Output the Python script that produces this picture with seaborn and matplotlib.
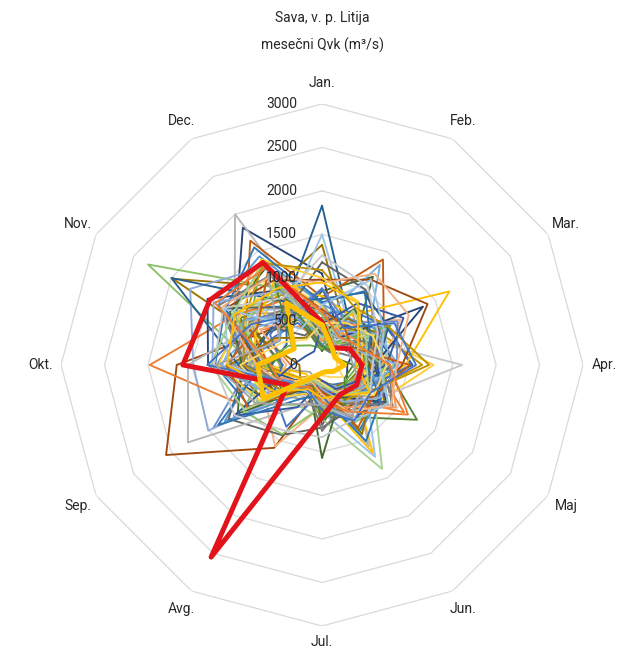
import numpy as np
import pandas as pd
import seaborn as sns
import matplotlib.pyplot as plt
from matplotlib import transforms

## data: monthly peak flow Qvk (m3/s), one list per year
months = ['Jan.', 'Feb.', 'Mar.', 'Apr.', 'Maj', 'Jun.', 'Jul.', 'Avg.', 'Sep.', 'Okt.', 'Nov.', 'Dec.']
r_ticks = [0, 500, 1000, 1500, 2000, 2500, 3000]

q1958 = [240, 180, 650, 540, 380, 260, 210, 330, 720, 890, 640, 560]
q1959 = [280, 520, 390, 610, 1090, 430, 250, 190, 470, 360, 820, 510]
q1960 = [350, 240, 580, 720, 460, 610, 280, 170, 160, 930, 1180, 690]
q1961 = [610, 470, 330, 780, 420, 1170, 360, 240, 210, 640, 870, 980]
q1962 = [230, 560, 470, 380, 740, 350, 520, 280, 410, 1020, 560, 870]
q1963 = [310, 190, 720, 450, 560, 380, 290, 410, 620, 480, 950, 1400]
q1964 = [1050, 380, 470, 290, 330, 520, 240, 160, 350, 780, 1140, 1820]
q1965 = [360, 280, 590, 430, 640, 310, 220, 1100, 2070, 1670, 760, 620]
q1966 = [540, 630, 320, 780, 520, 410, 690, 260, 740, 450, 1010, 390]
q1967 = [1380, 520, 640, 480, 360, 290, 180, 150, 290, 260, 1980, 1040]
q1968 = [1830, 610, 720, 840, 450, 330, 270, 220, 390, 580, 470, 820]
q1969 = [850, 1170, 410, 620, 480, 690, 340, 250, 480, 960, 730, 590]
q1970 = [620, 380, 490, 760, 610, 360, 280, 330, 1440, 820, 940, 720]
q1971 = [280, 690, 540, 930, 710, 430, 520, 290, 360, 1080, 590, 880]
q1972 = [410, 320, 380, 560, 420, 1080, 260, 230, 620, 740, 1160, 2000]
q1973 = [360, 470, 690, 1280, 790, 450, 390, 200, 290, 610, 960, 740]
q1974 = [520, 1330, 610, 480, 390, 310, 220, 180, 690, 1170, 870, 640]
q1975 = [730, 420, 460, 590, 370, 310, 240, 280, 860, 780, 2310, 1020]
q1976 = [640, 520, 860, 1040, 560, 410, 460, 390, 620, 880, 720, 810]
q1977 = [780, 1400, 820, 590, 520, 600, 330, 240, 790, 610, 1010, 1650]
q1978 = [200, 170, 260, 690, 940, 390, 510, 260, 640, 1060, 980, 760]
q1979 = [590, 450, 760, 1150, 620, 530, 280, 230, 300, 690, 1120, 930]
q1980 = [480, 410, 590, 620, 760, 860, 420, 280, 960, 1230, 1290, 780]
q1981 = [160, 620, 540, 720, 1260, 690, 600, 370, 480, 770, 1080, 890]
q1982 = [510, 380, 760, 640, 480, 390, 310, 230, 1510, 1480, 1750, 1300]
q1983 = [880, 560, 1040, 690, 430, 360, 470, 1080, 760, 410, 820, 620]
q1984 = [420, 760, 580, 1610, 760, 480, 350, 410, 590, 900, 1120, 980]
q1985 = [680, 430, 210, 170, 280, 160, 120, 110, 420, 840, 990, 1230]
q1986 = [1500, 590, 830, 760, 590, 1220, 540, 290, 830, 1280, 1180, 760]
q1987 = [510, 370, 660, 820, 690, 1380, 620, 540, 900, 760, 1020, 1060]
q1988 = [590, 710, 880, 1020, 560, 380, 300, 820, 640, 460, 690, 770]
q1989 = [420, 560, 740, 480, 410, 330, 380, 290, 980, 1980, 1150, 860]
q1990 = [720, 390, 830, 640, 490, 700, 560, 450, 680, 830, 1230, 1320]
q1991 = [790, 660, 1690, 960, 540, 420, 630, 250, 310, 780, 880, 1110]
q1992 = [700, 620, 780, 560, 760, 880, 410, 360, 1290, 760, 1380, 1440]
q1993 = [190, 300, 910, 420, 330, 560, 610, 220, 630, 740, 440, 260]
q1994 = [480, 350, 1340, 600, 860, 430, 290, 170, 760, 1310, 1520, 990]
q1995 = [980, 1130, 1400, 920, 710, 560, 310, 230, 640, 720, 1290, 1120]
q1996 = [1180, 1000, 760, 620, 830, 610, 720, 930, 1240, 880, 1320, 760]
q1997 = [520, 610, 720, 560, 640, 920, 260, 200, 780, 1060, 620, 360]
q1998 = [760, 960, 880, 640, 770, 720, 460, 360, 560, 960, 2000, 840]
q1999 = [360, 740, 660, 540, 610, 420, 1070, 290, 1120, 920, 1220, 1290]
q2000 = [880, 560, 1000, 860, 580, 670, 480, 310, 390, 1210, 1040, 700]
q2001 = [590, 430, 520, 780, 980, 560, 420, 340, 480, 640, 1300, 1380]
q2002 = [410, 360, 450, 600, 520, 660, 410, 560, 1780, 1540, 900, 1220]
q2003 = [1000, 840, 530, 460, 650, 390, 470, 380, 820, 1190, 1090, 1400]
q2004 = [330, 450, 720, 880, 530, 290, 200, 260, 690, 1150, 1030, 650]
q2005 = [580, 290, 480, 690, 870, 760, 480, 920, 1050, 630, 1180, 960]
q2006 = [470, 820, 1080, 740, 410, 320, 180, 560, 1170, 340, 210, 180]
q2007 = [640, 510, 390, 1010, 690, 830, 310, 270, 980, 1100, 860, 1240]
q2008 = [380, 230, 560, 780, 920, 510, 760, 330, 450, 880, 1370, 1190]
q2009 = [1090, 760, 880, 1230, 620, 470, 540, 210, 560, 900, 1040, 1350]
q2010 = [720, 980, 640, 510, 780, 1010, 360, 440, 1380, 690, 1280, 1560]
q2011 = [220, 190, 170, 360, 300, 520, 640, 230, 540, 620, 390, 1080]
q2012 = [450, 240, 380, 880, 760, 490, 280, 190, 690, 1260, 1440, 980]
q2013 = [940, 1210, 1150, 860, 920, 620, 340, 230, 480, 760, 1330, 1180]
q2014 = [1260, 1050, 740, 580, 640, 720, 830, 870, 1160, 1240, 1310, 890]
q2015 = [480, 560, 670, 740, 690, 380, 210, 180, 720, 940, 520, 340]
q2016 = [690, 1130, 820, 660, 880, 740, 460, 350, 490, 1080, 1290, 480]
q2017 = [310, 720, 590, 510, 620, 380, 240, 200, 1030, 1280, 1180, 1360]
q2018 = [870, 490, 960, 1080, 640, 740, 520, 330, 420, 1320, 940, 660]
q2019 = [610, 380, 460, 780, 1140, 620, 430, 290, 510, 590, 1420, 1290]
q2020 = [390, 280, 340, 360, 520, 690, 460, 520, 880, 1220, 560, 1260]
q2021 = [950, 820, 480, 390, 630, 410, 380, 320, 620, 1090, 1160, 1020]
q2022 = [460, 230, 170, 260, 150, 90, 90, 150, 780, 740, 370, 820]
q2023 = [490, 230, 370, 460, 460, 400, 600, 2550, 460, 1600, 1490, 1360]

years = {
    '1958': q1958, '1959': q1959, '1960': q1960, '1961': q1961, '1962': q1962,
    '1963': q1963, '1964': q1964, '1965': q1965, '1966': q1966, '1967': q1967,
    '1968': q1968, '1969': q1969, '1970': q1970, '1971': q1971, '1972': q1972,
    '1973': q1973, '1974': q1974, '1975': q1975, '1976': q1976, '1977': q1977,
    '1978': q1978, '1979': q1979, '1980': q1980, '1981': q1981, '1982': q1982,
    '1983': q1983, '1984': q1984, '1985': q1985, '1986': q1986, '1987': q1987,
    '1988': q1988, '1989': q1989, '1990': q1990, '1991': q1991, '1992': q1992,
    '1993': q1993, '1994': q1994, '1995': q1995, '1996': q1996, '1997': q1997,
    '1998': q1998, '1999': q1999, '2000': q2000, '2001': q2001, '2002': q2002,
    '2003': q2003, '2004': q2004, '2005': q2005, '2006': q2006, '2007': q2007,
    '2008': q2008, '2009': q2009, '2010': q2010, '2011': q2011, '2012': q2012,
    '2013': q2013, '2014': q2014, '2015': q2015, '2016': q2016, '2017': q2017,
    '2018': q2018, '2019': q2019, '2020': q2020, '2021': q2021,
}
highlight = {'2023': (q2023, '#E3131B'), '2022': (q2022, '#FFC000')}

# excel-ish series colours
office = ['#4472C4', '#ED7D31', '#A5A5A5', '#FFC000', '#5B9BD5', '#70AD47',
          '#264478', '#9E480E', '#636363', '#997300', '#255E91', '#43682B',
          '#698ED0', '#F1975A', '#B7B7B7', '#FFCD33', '#7CAFDD', '#8CC168',
          '#335AA1', '#C55A11', '#7B7B7B', '#BF9000', '#2E75B6', '#548235',
          '#8FAADC', '#F4B183', '#C9C9C9', '#FFD966', '#9DC3E6', '#A9D18E']


def to_long(name, vals):
    # close the loop by repeating january at 2*pi
    theta = np.linspace(0, 2 * np.pi, len(months) + 1)
    return pd.DataFrame({'year': name, 'theta': theta, 'Q': list(vals) + [vals[0]]})


df = pd.concat([to_long(k, v) for k, v in years.items()], ignore_index=True)
pal = {k: office[i % len(office)] for i, k in enumerate(years)}

## fig
sns.set_style('white')
plt.rcParams['font.family'] = ['Roboto', 'DejaVu Sans']
txt = '#262626'
fig = plt.figure(figsize=(6.29, 6.51), dpi=100)
ax = fig.add_axes([0.097, 0.0384, 0.830, 0.802], projection='polar')
ax.set_theta_zero_location('N')
ax.set_theta_direction(-1)
ax.set_ylim(0, r_ticks[-1])
ax.grid(False)
ax.spines['polar'].set_visible(False)
ax.set_facecolor('none')

# polygon grid like excel
grid_theta = np.linspace(0, 2 * np.pi, len(months) + 1)
for r in r_ticks[1:]:
    ax.plot(grid_theta, [r] * len(grid_theta), color='#D9D9D9', lw=0.9, zorder=0)

sns.lineplot(data=df, x='theta', y='Q', hue='year', palette=pal, units='year',
             estimator=None, sort=False, legend=False, lw=1.35, ax=ax)

for name, (vals, col) in highlight.items():
    sns.lineplot(data=to_long(name, vals), x='theta', y='Q', sort=False,
                 estimator=None, color=col, lw=3.6, ax=ax)

ax.set_xticks([])
ax.set_yticks([])
ax.set_xlabel('')
ax.set_ylabel('')

# month labels around the outside
for ang, m in zip(grid_theta[:-1], months):
    rr = 3180 if m == 'Jul.' else 3240
    ax.text(ang, rr, m, ha='center', va='center', fontsize=10, color=txt, clip_on=False)

# radial value labels left of the january axis
shift = transforms.offset_copy(ax.transData, fig=fig, x=-25, y=0, units='dots')
for r in r_ticks:
    ax.text(0, r, str(r), ha='right', va='center', fontsize=10, color=txt, transform=shift)

fig.text(0.512, 0.972, 'Sava, v. p. Litija', ha='center', va='center', fontsize=10, color=txt)
fig.text(0.512, 0.931, 'mesečni Qvk (m³/s)', ha='center', va='center', fontsize=10, color=txt)

fig.savefig('out.png', dpi=100, facecolor='white')
